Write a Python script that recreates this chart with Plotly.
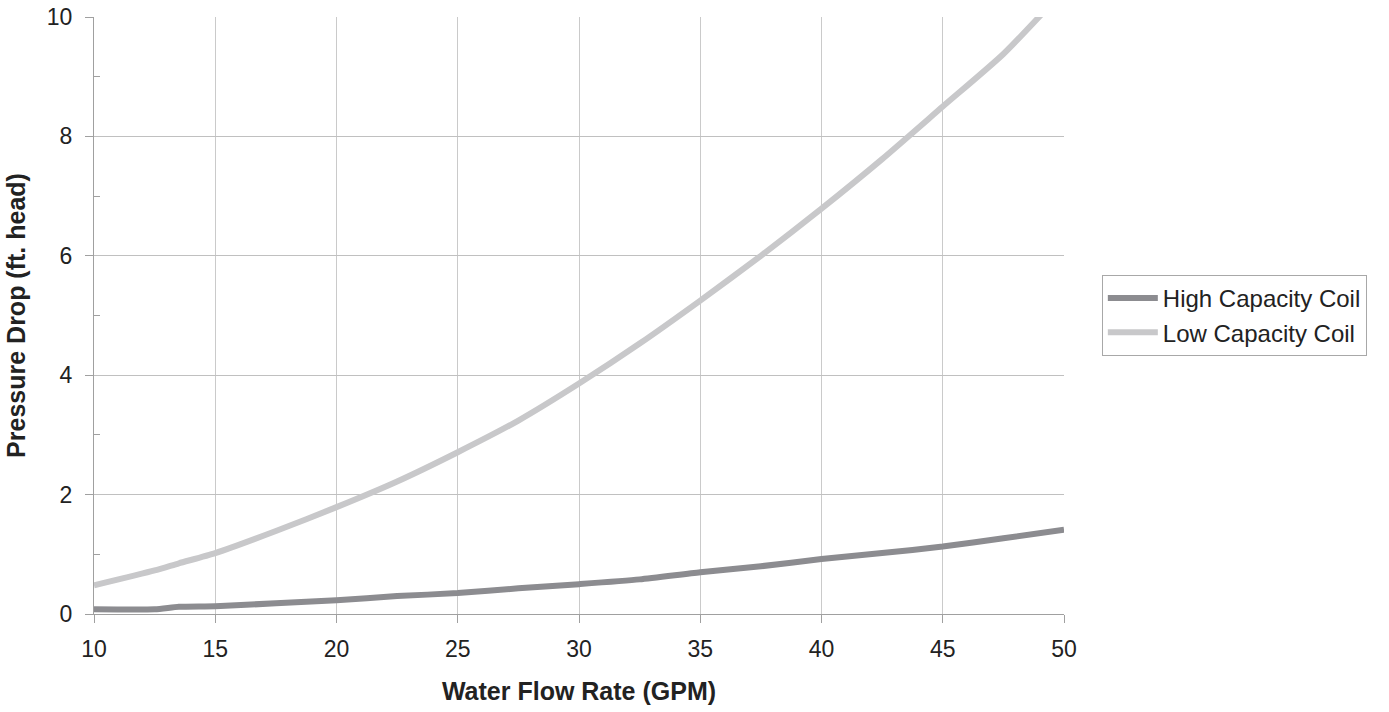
import plotly.graph_objects as go

flow = [10, 12.5, 13.5, 15, 17.5, 20, 22.5, 25, 27.5, 30, 32.5, 35, 37.5, 40, 42.5, 45, 47.5, 50]
high_cap = [0.08, 0.08, 0.12, 0.13, 0.18, 0.23, 0.30, 0.35, 0.43, 0.50, 0.58, 0.70, 0.80, 0.92, 1.02, 1.13, 1.27, 1.41]
low_cap = [0.48, 0.73, 0.85, 1.02, 1.39, 1.79, 2.22, 2.71, 3.24, 3.86, 4.53, 5.25, 6.00, 6.79, 7.62, 8.50, 9.38, 10.45]

fig = go.Figure()
fig.add_trace(go.Scatter(x=flow, y=high_cap, mode="lines", name="High Capacity Coil",
                         line=dict(color="#8c8c90", width=6, shape="spline", smoothing=0.6)))
fig.add_trace(go.Scatter(x=flow, y=low_cap, mode="lines", name="Low Capacity Coil",
                         line=dict(color="#c8c8ca", width=6, shape="spline", smoothing=0.6)))

font_family = "Liberation Sans, Arial, sans-serif"
fig.update_layout(
    width=1389, height=712,
    margin=dict(l=94, r=325, t=17, b=98, autoexpand=False),
    plot_bgcolor="white", paper_bgcolor="white",
    font=dict(family=font_family, size=23, color="#222222"),
    showlegend=True,
    legend=dict(x=1.039, xanchor="left", y=0.5, yanchor="middle",
                bordercolor="#a8a8a8", borderwidth=1, font=dict(size=24),
                itemwidth=50, tracegroupgap=0),
)
fig.update_xaxes(
    range=[10, 50], tickvals=[10, 15, 20, 25, 30, 35, 40, 45, 50],
    showgrid=True, gridcolor="#cacaca", gridwidth=1.3,
    showline=True, linecolor="#a0a0a0", linewidth=1.3,
    ticks="outside", ticklen=8, tickcolor="#a0a0a0", ticklabelstandoff=6,
    tickfont=dict(size=23), zeroline=False, automargin=False,
    title=dict(text="<b>Water Flow Rate (GPM)</b>", font=dict(size=25), standoff=21),
)
fig.update_yaxes(
    range=[0, 10], tickvals=[0, 2, 4, 6, 8, 10],
    showgrid=True, gridcolor="#c0c0c0", gridwidth=1.2,
    showline=True, linecolor="#a0a0a0", linewidth=1.3,
    ticks="outside", ticklen=8, tickcolor="#a0a0a0", ticklabelstandoff=8,
    minor=dict(tickvals=[1, 3, 5, 7, 9], ticks="inside", ticklen=6, tickcolor="#a0a0a0", showgrid=False),
    tickfont=dict(size=23), zeroline=False, automargin=False,
    title=dict(text="<b>Pressure Drop (ft. head)</b>", font=dict(size=25), standoff=13),
)

fig.write_html("out.html", config={"displayModeBar": False},
               post_script="document.body.style.margin='0';")
